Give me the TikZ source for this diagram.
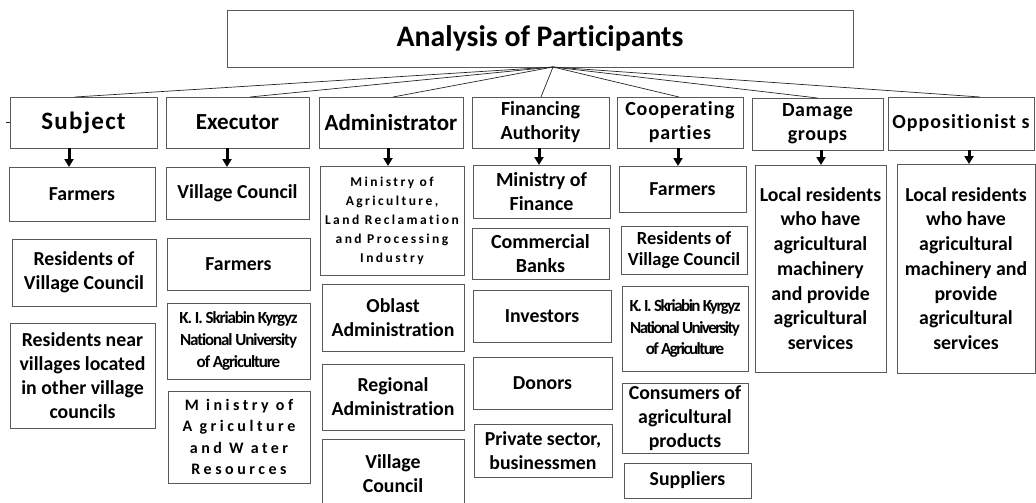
\documentclass[tikz,border=0pt]{standalone}
\usepackage{fontspec}
\setmainfont{Carlito}[Ligatures=NoCommon]
\usetikzlibrary{arrows.meta}
\newcommand\fKid{\fontsize{19.8}{24}\selectfont\bfseries}
\newcommand\fCat{\fontsize{20}{24}\selectfont\bfseries}
\tikzset{
  box/.style={draw=black!65, line width=0.8pt, inner sep=0pt, outer sep=0pt, align=center, font=\fKid},
  cat/.style={box, font=\fCat},
  link/.style={draw=black!85, line width=0.7pt},
  arr/.style={draw=black, line width=3pt, -{Triangle[length=8pt,width=9pt]}},
  wide/.style={font=\fontsize{16}{21.3}\selectfont\bfseries\addfontfeature{LetterSpace=22}},
  widesmall/.style={font=\fontsize{13.5}{19}\selectfont\bfseries\addfontfeature{LetterSpace=18}},
  narrow/.style={font=\fontsize{17}{21.7}\selectfont\bfseries\addfontfeature{LetterSpace=#1}},
}
\begin{document}
\begin{tikzpicture}[x=1pt,y=-1pt]
\useasboundingbox (0,0) rectangle (1036,503);
% title
\node[box, minimum width=626pt, minimum height=57pt, font=\fontsize{29.8}{34}\selectfont\bfseries] (title) at (540,38.5) {Analysis of Participants};
\coordinate (apex) at (553,67);
% categories
\node[cat, minimum width=147pt, minimum height=51pt, font=\fontsize{25}{30}\selectfont\bfseries\addfontfeature{LetterSpace=5}] (subj) at (83.5,122.5) {Subject};
\node[cat, minimum width=143pt, minimum height=51pt, font=\fontsize{23}{28}\selectfont\bfseries] (exec) at (237.5,122.5) {Executor};
\node[cat, minimum width=144pt, minimum height=51pt, font=\fontsize{23}{28}\selectfont\bfseries] (adm) at (391,122.5) {Administrator};
\node[cat, minimum width=137pt, minimum height=51pt] (fin) at (540.5,122.5) {Financing\\Authority};
\node[cat, minimum width=126pt, minimum height=51pt, font=\fCat\addfontfeature{LetterSpace=4}] (coop) at (680,122.5) {Cooperating\\parties};
\node[cat, minimum width=131pt, minimum height=52pt, font=\fCat\addfontfeature{LetterSpace=3}] (dam) at (817.5,124) {Damage\\groups};
\node[cat, minimum width=146pt, minimum height=53pt, font=\fCat\addfontfeature{LetterSpace=5}] (opp) at (961,123.5) {Oppositionist s};
% connectors from title
\draw[link] (apex) -- ([xshift=-8.5pt]subj.north);
\draw[link] (apex) -- ([xshift=12.5pt]exec.north);
\draw[link] (apex) -- ([xshift=2pt]adm.north);
\draw[link] (apex) -- ([xshift=0.5pt]fin.north);
\draw[link] (apex) -- ([xshift=-1pt]coop.north);
\draw[link] (apex) -- (dam.north);
\draw[link] (apex) -- ([xshift=19pt]opp.north);
\draw[link] (subj.west) -- ++(-4,0);
% Subject column
\node[box, minimum width=146pt, minimum height=54pt] (s1) at (82,194) {Farmers};
\node[box, minimum width=144pt, minimum height=67pt] (s2) at (84,272.5) {Residents of\\Village Council};
\node[box, minimum width=145pt, minimum height=105pt] (s3) at (82.5,375.5) {Residents near\\villages located\\in other village\\councils};
% Executor column
\node[box, minimum width=143pt, minimum height=52pt] (e1) at (237.5,193) {Village Council};
\node[box, minimum width=143pt, minimum height=52pt] (e2) at (238.5,264) {Farmers};
\node[box, narrow=-6.5, minimum width=143pt, minimum height=76pt] (e3) at (238.5,341) {K. I. Skriabin Kyrgyz\\National University\\of Agriculture};
\node[box, wide, minimum width=142pt, minimum height=92pt] (e4) at (239,437) {M inistry of\\A griculture\\and W ater\\Resources};
% Administrator column
\node[box, widesmall, minimum width=144pt, minimum height=109pt] (a1) at (392,220.5) {Ministry of\\Agriculture,\\Land Reclamation\\and Processing\\Industry};
\node[box, minimum width=142pt, minimum height=67pt] (a2) at (393,317.5) {Oblast\\Administration};
\node[box, minimum width=142pt, minimum height=66pt] (a3) at (393,397) {Regional\\Administration};
\node[box, minimum width=142pt, minimum height=70pt] (a4) at (393,474) {Village\\Council};
% Financing column
\node[box, font=\fCat, minimum width=137pt, minimum height=53pt] (f1) at (541.5,191.5) {Ministry of\\Finance};
\node[box, font=\fCat, minimum width=137pt, minimum height=51pt] (f2) at (540.5,253.5) {Commercial\\Banks};
\node[box, minimum width=138pt, minimum height=52pt] (f3) at (542,316) {Investors};
\node[box, minimum width=139pt, minimum height=52pt] (f4) at (542.5,383) {Donors};
\node[box, minimum width=138pt, minimum height=53pt] (f5) at (543,450.5) {Private sector,\\businessmen};
% Cooperating column
\node[box, minimum width=127pt, minimum height=46pt] (c1) at (682.5,189) {Farmers};
\node[box, font=\fontsize{18.5}{21.5}\selectfont\bfseries, minimum width=126pt, minimum height=48pt] (c2) at (684,250) {Residents of\\Village Council};
\node[box, narrow=-9, minimum width=126pt, minimum height=85pt] (c3) at (685,328.5) {K. I. Skriabin Kyrgyz\\National University\\of Agriculture};
\node[box, minimum width=126pt, minimum height=70pt] (c4) at (685,418) {Consumers of\\agricultural\\products};
\node[box, minimum width=127pt, minimum height=35pt] (c5) at (687.5,480.5) {Suppliers};
% Damage and Oppositionists
\node[box, font=\fontsize{19.8}{24.7}\selectfont\bfseries, minimum width=131pt, minimum height=207pt] (d1) at (820.5,268.5) {Local residents\\who have\\agricultural\\machinery\\and provide\\agricultural\\services};
\node[box, font=\fontsize{19.8}{24.7}\selectfont\bfseries, minimum width=138pt, minimum height=209pt] (o1) at (966,268.5) {Local residents\\who have\\agricultural\\machinery and\\provide\\agricultural\\services};
% arrows
\draw[arr] ([xshift=-14.5pt]subj.south) -- ([xshift=-14.5pt]subj.south |- s1.north);
\draw[arr] ([xshift=-10.5pt]exec.south) -- ([xshift=-10.5pt]exec.south |- e1.north);
\draw[arr] ([xshift=-3pt]adm.south) -- ([xshift=-3pt]adm.south |- a1.north);
\draw[arr] ([xshift=-1.5pt]fin.south) -- ([xshift=-1.5pt]fin.south |- f1.north);
\draw[arr] ([xshift=-2pt]coop.south) -- ([xshift=-2pt]coop.south |- c1.north);
\draw[arr] ([xshift=3.5pt]dam.south) -- ([xshift=3.5pt]dam.south |- d1.north);
\draw[arr] ([xshift=8pt]opp.south) -- ([xshift=8pt]opp.south |- o1.north);
\end{tikzpicture}
\end{document}
